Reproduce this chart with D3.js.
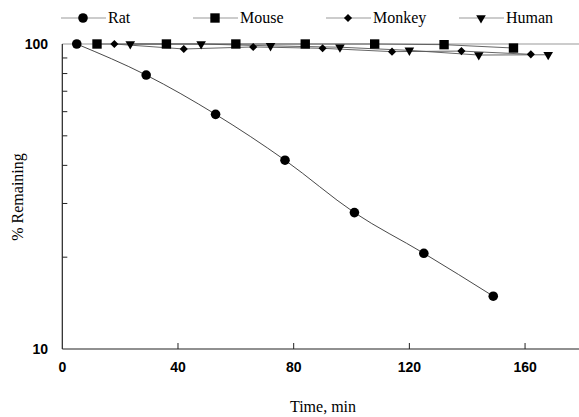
<!DOCTYPE html>
<html>
<head>
<meta charset="utf-8">
<title>% Remaining vs Time</title>
<script src="https://d3js.org/d3.v7.min.js"></script>
<style>
  body { margin: 0; background: #fff; }
  svg { display: block; }
</style>
</head>
<body>
<svg id="chart"></svg>
<script>
// data
const ratTime = [5, 29, 53, 77, 101, 125, 149];
const ratPct = [100, 79.1, 58.8, 41.6, 28.0, 20.6, 14.9];
const mouseTime = [12, 36, 60, 84, 108, 132, 156];
const mousePct = [100, 100, 100, 100, 100, 99.5, 97.0];
const monkeyTime = [18, 42, 66, 90, 114, 138, 162];
const monkeyPct = [100, 96.3, 97.8, 96.8, 94.4, 94.8, 92.5];
const humanTime = [23.5, 48, 72, 96, 120, 144, 168];
const humanPct = [100, 100, 98.6, 97.6, 95.3, 92.0, 92.2];
const xTicks = [0, 40, 80, 120, 160];
const yLabels = [10, 100];
const yMinor = [20, 30, 40, 50, 60, 70, 80, 90];

const W = 579, H = 417;
const svg = d3.select("#chart").attr("width", W).attr("height", H);

const x = d3.scaleLinear().domain([0, 180]).range([62.3, 582.9]);
const y = d3.scaleLog().domain([10, 100]).range([349, 44]);

// gray line along the 100% level
svg.append("line")
    .attr("x1", x(0)).attr("x2", W)
    .attr("y1", y(100)).attr("y2", y(100))
    .attr("stroke", "#999").attr("stroke-width", 1);

// axes
svg.append("line")
    .attr("x1", x(0)).attr("x2", W)
    .attr("y1", y(10)).attr("y2", y(10))
    .attr("stroke", "#222").attr("stroke-width", 1.2);
svg.append("line")
    .attr("x1", x(0)).attr("x2", x(0))
    .attr("y1", y(100)).attr("y2", y(10))
    .attr("stroke", "#222").attr("stroke-width", 1.2);

svg.selectAll("line.xtick").data(xTicks.slice(1)).enter()
    .append("line").attr("class", "xtick")
    .attr("x1", d => x(d)).attr("x2", d => x(d))
    .attr("y1", y(10)).attr("y2", y(10) - 6)
    .attr("stroke", "#222").attr("stroke-width", 1);

svg.selectAll("line.ytick").data(yMinor).enter()
    .append("line").attr("class", "ytick")
    .attr("x1", x(0)).attr("x2", x(0) + 5)
    .attr("y1", d => y(d)).attr("y2", d => y(d))
    .attr("stroke", "#222").attr("stroke-width", 1);

svg.selectAll("text.xlab").data(xTicks).enter()
    .append("text").attr("class", "xlab")
    .attr("x", d => x(d)).attr("y", 372)
    .attr("text-anchor", "middle")
    .attr("font-family", "Liberation Sans, Arial, sans-serif")
    .attr("font-weight", "bold").attr("font-size", "14px")
    .text(d => d);

svg.selectAll("text.ylab").data(yLabels).enter()
    .append("text").attr("class", "ylab")
    .attr("x", 48).attr("y", d => y(d) + 5)
    .attr("text-anchor", "end")
    .attr("font-family", "Liberation Sans, Arial, sans-serif")
    .attr("font-weight", "bold").attr("font-size", "14px")
    .text(d => d);

// axis titles
svg.append("text")
    .attr("x", 323).attr("y", 412)
    .attr("text-anchor", "middle")
    .attr("font-family", "Liberation Serif, Times New Roman, serif")
    .attr("font-size", "16px")
    .text("Time, min");

svg.append("text")
    .attr("transform", "translate(23,197) rotate(-90)")
    .attr("text-anchor", "middle")
    .attr("font-family", "Liberation Serif, Times New Roman, serif")
    .attr("font-size", "16px")
    .text("% Remaining");

// series
const series = [
    { name: "Rat", t: ratTime, v: ratPct, sym: d3.symbolCircle, size: 72, rot: 0, curve: d3.curveMonotoneX, lx: 83 },
    { name: "Mouse", t: mouseTime, v: mousePct, sym: d3.symbolSquare, size: 88, rot: 0, curve: d3.curveLinear, lx: 215 },
    { name: "Monkey", t: monkeyTime, v: monkeyPct, sym: d3.symbolDiamond2, size: 42, rot: 0, curve: d3.curveLinear, lx: 348 },
    { name: "Human", t: humanTime, v: humanPct, sym: d3.symbolTriangle, size: 40, rot: 180, curve: d3.curveLinear, lx: 481 }
];

series.forEach(s => {
    const pts = s.t.map((t, i) => [t, s.v[i]]);
    const line = d3.line().x(d => x(d[0])).y(d => y(d[1])).curve(s.curve);
    svg.append("path")
        .attr("d", line(pts))
        .attr("fill", "none")
        .attr("stroke", s.name === "Rat" ? "#333" : "#555")
        .attr("stroke-width", 0.9);
});

series.forEach(s => {
    const pts = s.t.map((t, i) => [t, s.v[i]]);
    svg.selectAll(null).data(pts).enter()
        .append("path")
        .attr("d", d3.symbol().type(s.sym).size(s.size))
        .attr("transform", d => `translate(${x(d[0])},${y(d[1])}) rotate(${s.rot})`)
        .attr("fill", "#000");
});

// legend
const legendY = 18;
series.forEach(s => {
    svg.append("line")
        .attr("x1", s.lx - 22).attr("x2", s.lx + 23)
        .attr("y1", legendY).attr("y2", legendY)
        .attr("stroke", "#999").attr("stroke-width", 1);
    svg.append("path")
        .attr("d", d3.symbol().type(s.sym).size(s.size))
        .attr("transform", `translate(${s.lx},${legendY}) rotate(${s.rot})`)
        .attr("fill", "#000");
    svg.append("text")
        .attr("x", s.lx + 25).attr("y", legendY + 5)
        .attr("font-family", "Liberation Serif, Times New Roman, serif")
        .attr("font-size", "16px")
        .text(s.name);
});
</script>
</body>
</html>
